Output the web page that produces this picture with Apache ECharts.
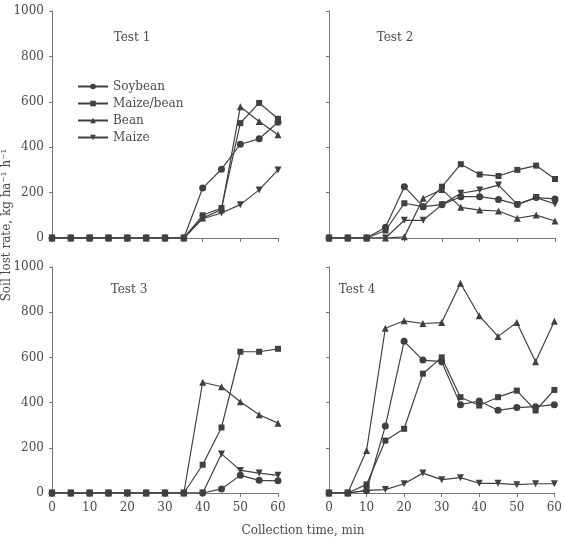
<!DOCTYPE html>
<html>
<head>
<meta charset="utf-8">
<script src="https://cdn.jsdelivr.net/npm/echarts@6/dist/echarts.min.js"></script>
<style>
  html, body { margin: 0; padding: 0; background: #fff; }
  #chart { width: 565px; height: 539px; }
</style>
</head>
<body>
<div id="chart"></div>
<script>
// collection times, min
var times = [0, 5, 10, 15, 20, 25, 30, 35, 40, 45, 50, 55, 60];
var crops = ['Soybean', 'Maize/bean', 'Bean', 'Maize'];
var panelTitles = ['Test 1', 'Test 2', 'Test 3', 'Test 4'];
var yTicks = [0, 200, 400, 600, 800, 1000];

// soil lost rate, kg ha-1 h-1
var test1Soybean   = [0, 0, 0, 0, 0, 0, 0, 0, 220, 303, 413, 437, 510];
var test1MaizeBean = [0, 0, 0, 0, 0, 0, 0, 0, 100, 132, 506, 595, 525];
var test1Bean      = [0, 0, 0, 0, 0, 0, 0, 0, 88, 125, 578, 513, 455];
var test1Maize     = [0, 0, 0, 0, 0, 0, 0, 0, 85, 110, 147, 212, 300];

var test2Soybean   = [0, 0, 0, 47, 226, 138, 147, 182, 182, 170, 148, 178, 172];
var test2MaizeBean = [0, 0, 0, 33, 153, 138, 226, 325, 280, 273, 300, 319, 260];
var test2Bean      = [0, 0, 0, 0, 5, 175, 214, 135, 123, 119, 87, 101, 75];
var test2Maize     = [0, 0, 0, 0, 78, 78, 147, 197, 211, 233, 148, 178, 150];

var test3Soybean   = [0, 0, 0, 0, 0, 0, 0, 0, 0, 18, 78, 56, 54];
var test3MaizeBean = [0, 0, 0, 0, 0, 0, 0, 0, 125, 290, 625, 625, 638];
var test3Bean      = [0, 0, 0, 0, 0, 0, 0, 0, 490, 470, 404, 346, 309];
var test3Maize     = [0, 0, 0, 0, 0, 0, 0, 0, 0, 173, 100, 88, 78];

var test4Soybean   = [0, 0, 10, 296, 671, 588, 581, 391, 407, 366, 378, 382, 391];
var test4MaizeBean = [0, 0, 38, 232, 284, 528, 600, 424, 387, 424, 453, 365, 456];
var test4Bean      = [0, 0, 188, 729, 762, 750, 754, 928, 784, 693, 754, 581, 760];
var test4Maize     = [0, 0, 12, 15, 41, 88, 59, 68, 43, 43, 37, 41, 41];

var tests = [
  [test1Soybean, test1MaizeBean, test1Bean, test1Maize],
  [test2Soybean, test2MaizeBean, test2Bean, test2Maize],
  [test3Soybean, test3MaizeBean, test3Bean, test3Maize],
  [test4Soybean, test4MaizeBean, test4Bean, test4Maize]
];

var font = 'DejaVu Serif';
var textColor = '#4a4a4a';
var axisColor = '#777';
var lineColor = '#404040';

var grids = [
  { left: 52, top: 11, width: 226, height: 227 },
  { left: 329, top: 11, width: 226, height: 227 },
  { left: 52, top: 267, width: 226, height: 226 },
  { left: 329, top: 267, width: 226, height: 226 }
];
var titlePos = [[132, 38], [395, 38], [129, 290], [357, 290]];

var symbols = [
  { symbol: 'circle', size: 7, rotate: 0 },
  { symbol: 'rect', size: 6, rotate: 0 },
  { symbol: 'triangle', size: 7, rotate: 0 },
  { symbol: 'triangle', size: 7, rotate: 180 }
];

var xAxes = [], yAxes = [], series = [], graphics = [];
grids.forEach(function (g, i) {
  var bottom = i >= 2;
  var left = i % 2 === 0;
  xAxes.push({
    gridIndex: i, type: 'value', min: 0, max: 60, interval: 10,
    axisLine: { lineStyle: { color: axisColor, width: 1 } },
    axisTick: { show: true, length: 4, lineStyle: { color: axisColor } },
    axisLabel: { show: bottom, margin: 9, color: textColor, fontFamily: font, fontSize: 12 },
    splitLine: { show: false }
  });
  yAxes.push({
    gridIndex: i, type: 'value', min: yTicks[0], max: yTicks[yTicks.length - 1], interval: 200,
    axisLine: { show: true, lineStyle: { color: axisColor, width: 1 } },
    axisTick: { show: true, length: 3, lineStyle: { color: axisColor } },
    axisLabel: {
      show: left, margin: 8, color: textColor, fontFamily: font, fontSize: 12,
      formatter: function (v) { return String(v); }
    },
    splitLine: { show: false }
  });
  tests[i].forEach(function (vals, k) {
    series.push({
      name: crops[k], type: 'line', xAxisIndex: i, yAxisIndex: i,
      data: times.map(function (t, j) { return [t, vals[j]]; }),
      symbol: symbols[k].symbol, symbolSize: symbols[k].size, symbolRotate: symbols[k].rotate,
      lineStyle: { color: lineColor, width: 1.2 },
      itemStyle: { color: lineColor },
      emphasis: { disabled: true },
      animation: false, z: 2 + k
    });
  });
  graphics.push({
    type: 'text', x: titlePos[i][0], y: titlePos[i][1],
    style: { text: panelTitles[i], font: '12px "DejaVu Serif"', fill: textColor, align: 'center', verticalAlign: 'middle' }
  });
});

graphics.push({
  type: 'text', x: 303, y: 531,
  style: { text: 'Collection time, min', font: '12px "DejaVu Serif"', fill: textColor, align: 'center', verticalAlign: 'middle' }
});
graphics.push({
  type: 'text', x: 7, y: 225, rotation: Math.PI / 2,
  style: { text: 'Soil lost rate, kg ha\u207B\u00B9 h\u207B\u00B9', font: '12px "DejaVu Serif"', fill: textColor, align: 'center', verticalAlign: 'middle' }
});

var chart = echarts.init(document.getElementById('chart'));
chart.setOption({
  backgroundColor: '#fff',
  animation: false,
  grid: grids,
  xAxis: xAxes,
  yAxis: yAxes,
  legend: {
    data: crops, orient: 'vertical', left: 72, top: 75,
    itemWidth: 30, itemHeight: 7, itemGap: 4,
    textStyle: { color: textColor, fontFamily: font, fontSize: 12, lineHeight: 13 },
    selectedMode: false
  },
  graphic: graphics,
  series: series
});
</script>
</body>
</html>
